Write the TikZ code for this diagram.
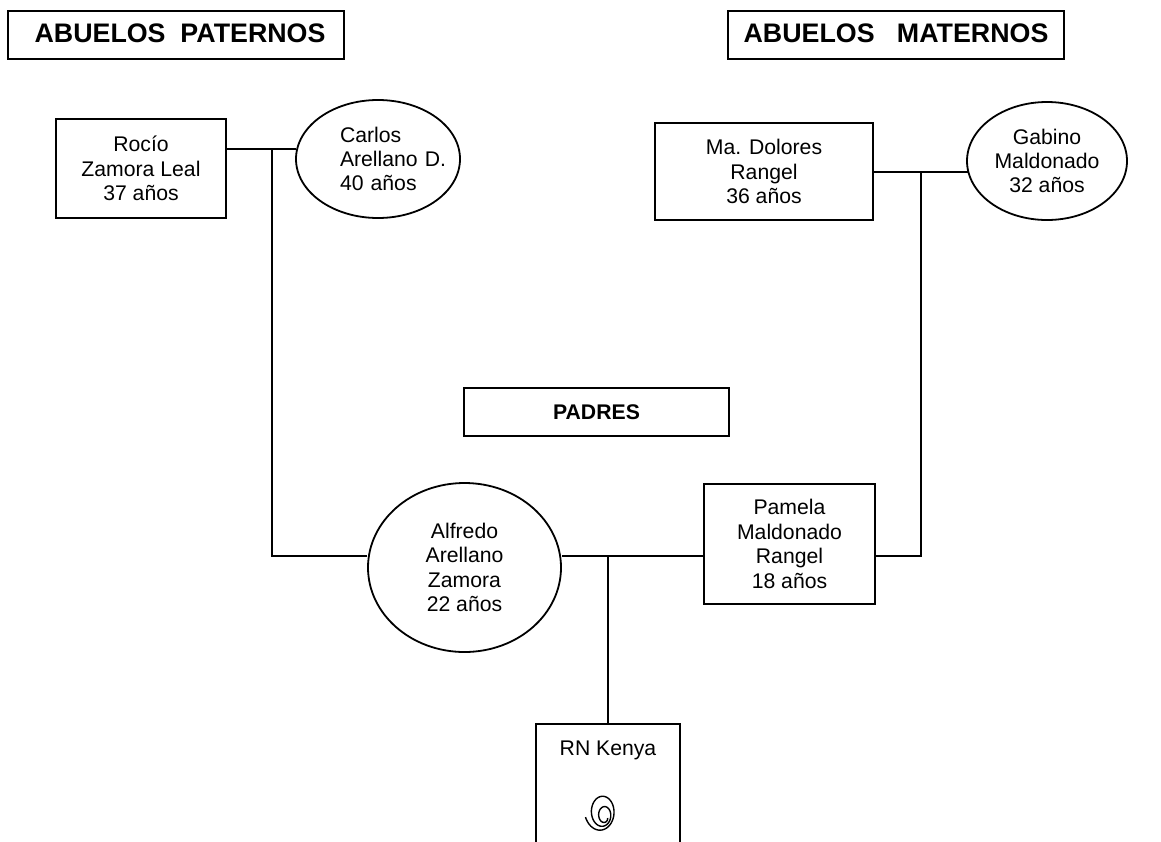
\documentclass[tikz,border=0pt]{standalone}
\usepackage{fontspec}
\setmainfont{Liberation Sans}
\usetikzlibrary{shapes.geometric, calc}

\begin{document}
\begin{tikzpicture}[x=0.5pt, y=-0.5pt, line width=0.9pt,
  font=\fontsize{10.6}{12.2}\selectfont,
  b/.style={draw, rectangle, align=center, inner sep=0pt},
  e/.style={draw, ellipse, align=center, inner sep=0pt},
  h/.style={draw, rectangle, inner sep=0pt, minimum width=168pt, minimum height=24pt,
    font=\fontsize{13.4}{15}\selectfont\bfseries}]
\useasboundingbox (0,0) rectangle (1161,841);
% encabezados
\node[h] (hp) at (176,35) {\raisebox{1.5pt}{\hspace{4pt}ABUELOS\ \ PATERNOS}};
\node[h] (hm) at (896,35) {\raisebox{1.5pt}{ABUELOS\ \ \ MATERNOS}};
% abuelos paternos
\node[b, minimum width=85pt, minimum height=49.5pt] (rocio) at (141,168.5) {Rocío\\Zamora Leal\\37 años};
\node[e, align=left, text width=38pt, minimum width=82pt, minimum height=59pt] (carlos) at (378,159) {Carlos\\Arellano~D.\\40~años};
% abuelos maternos
\node[b, minimum width=109pt, minimum height=48.5pt] (dolores) at (764,171.5) {Ma. Dolores\\Rangel\\36 años};
\node[e, minimum width=80pt, minimum height=59pt] (gabino) at (1047,161) {Gabino\\Maldonado\\32 años};
% padres
\node[b, minimum width=132.5pt, minimum height=24pt, font=\fontsize{10.6}{12.2}\selectfont\bfseries] (padres) at (596.5,412) {PADRES};
\node[e, minimum width=96.5pt, minimum height=84.5pt] (alfredo) at (464.5,567.5) {Alfredo\\Arellano\\Zamora\\22 años};
\node[b, minimum width=85.5pt, minimum height=60pt] (pamela) at (789.5,544) {Pamela\\Maldonado\\Rangel\\18 años};
% hija
\node[b, anchor=north, minimum width=72pt, inner ysep=8.4pt, text height=7.6pt, text depth=70pt] (rn) at (608,723) {RN Kenya};
\draw[line width=0.7pt] plot[smooth, domain=0:880, samples=140, variable=\t]
  ({600+(880-\t)/880*5+0.85*(3+\t/58)*cos(\t)}, {810+(880-\t)/880*8+1.15*(3+\t/58)*sin(\t)});
% uniones
\coordinate (pj) at (272,149);
\coordinate (mj) at (921,172);
\coordinate (pc) at (608,556);
\draw (rocio.east |- pj) -- (pj) -- ($(carlos.west |- pj)+(1.2,0)$);
\draw (pj) |- (alfredo.west |- pc);
\draw (dolores.east |- mj) -- (mj) -- ($(gabino.west |- mj)+(1.5,0)$);
\draw (mj) |- (pamela.east |- pc);
\draw (alfredo.east |- pc) -- (pamela.west |- pc);
\draw (pc) -- (rn.north);
\end{tikzpicture}
\end{document}
